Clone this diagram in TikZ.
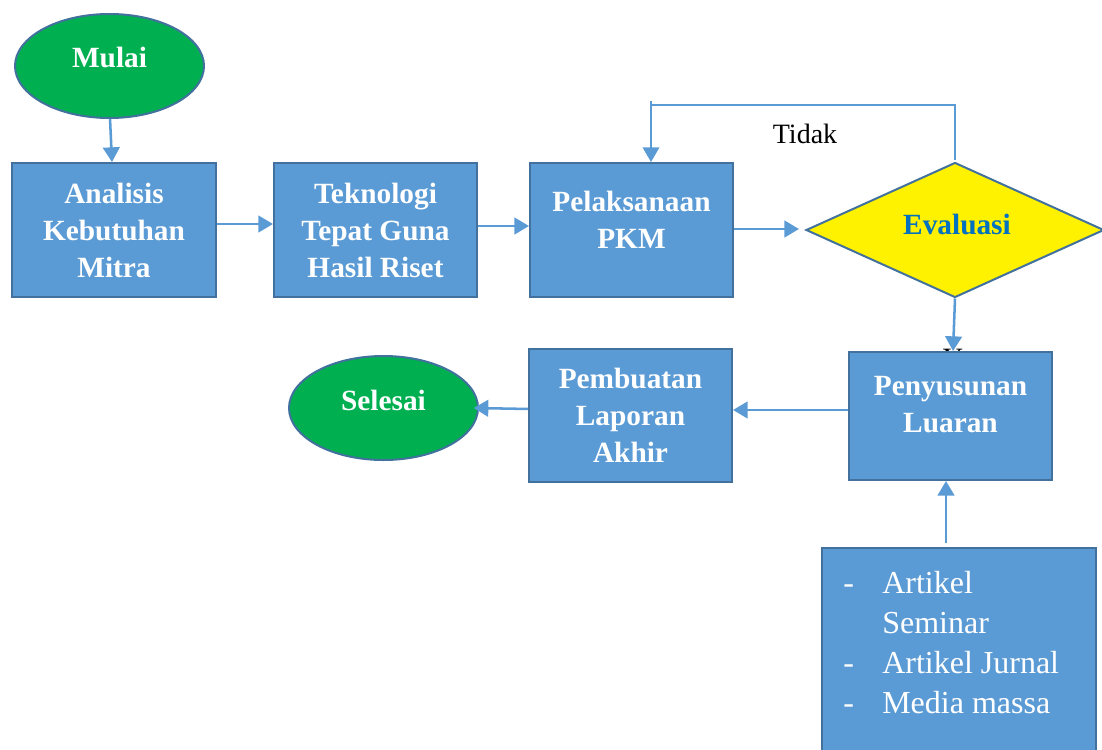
\documentclass[tikz,border=0pt]{standalone}
\usepackage{fontspec}
\setmainfont{Liberation Serif}
\usetikzlibrary{shapes.geometric,arrows.meta}
\definecolor{boxblue}{HTML}{5B9BD5}
\definecolor{edgeblue}{HTML}{41719C}
\definecolor{termgreen}{HTML}{00B050}
\definecolor{evalblue}{HTML}{0070C0}
\begin{document}
\begin{tikzpicture}[x=0.75pt,y=-0.75pt,
  procbox/.style={draw=edgeblue,line width=1.5pt,fill=boxblue,inner sep=0pt},
  termnode/.style={ellipse,draw=edgeblue,line width=1.5pt,fill=termgreen,inner sep=0pt,minimum width=141.75pt,minimum height=78pt},
  decnode/.style={diamond,draw=edgeblue,line width=1.5pt,fill=yellow,inner sep=0pt,minimum width=223.5pt,minimum height=101.25pt},
  boldtxt/.style={text=white,font=\fontsize{22}{27.75}\selectfont\bfseries,align=center,inner sep=0pt},
  plaintxt/.style={text=white,font=\fontsize{24}{30}\selectfont,inner sep=0pt,anchor=base west},
  flow/.style={draw=boxblue,line width=1.9pt,-{Triangle[length=11pt,width=12.5pt]}},
  thinflow/.style={draw=boxblue,line width=1.1pt,-{Triangle[length=11pt,width=12.5pt]}},
  thinline/.style={draw=boxblue,line width=1.1pt}]
\useasboundingbox (0,0) rectangle (1102,749);
\clip (0,0) rectangle (1102,749);

% terminals
\node[termnode] (mulai) at (109.5,66) {};
\node[boldtxt] (mulaitxt) at (109.5,58) {Mulai};
\node[termnode] (sel) at (383.5,408) {};
\node[boldtxt] (seltxt) at (383.5,400) {Selesai};

% top row boxes
\node[procbox,minimum width=153pt,minimum height=100.5pt] (ana) at (114,230) {};
\node[boldtxt] (anatxt) at (114,230) {Analisis\\Kebutuhan\\Mitra};
\node[procbox,minimum width=152.25pt,minimum height=100.5pt] (tek) at (375.5,230) {};
\node[boldtxt] (tektxt) at (375.5,230) {Teknologi\\Tepat Guna\\Hasil Riset};
\node[procbox,minimum width=152.25pt,minimum height=100.5pt] (pelak) at (631.5,230) {};
\node[boldtxt] (pelaktxt) at (631.5,220) {Pelaksanaan\\PKM};

% decision
\node[decnode] (eval) at (955,230) {};
\node[boldtxt,text=evalblue] (evaltxt) at (957,225) {Evaluasi};
\node[font=\fontsize{21}{25}\selectfont,inner sep=0pt] (tidak) at (805,134) {Tidak};

% hidden Y label (behind box)
\node[font=\fontsize{21}{25}\selectfont,inner sep=0pt,anchor=north] (ylab) at (953,349) {Y};

% bottom row
\node[procbox,minimum width=152.25pt,minimum height=96pt] (peny) at (950.5,416) {};
\node[boldtxt] (penytxt) at (950.5,405) {Penyusunan\\Luaran};
\node[procbox,minimum width=152.25pt,minimum height=99.75pt] (pemb) at (630.5,415.5) {};
\node[boldtxt] (pembtxt) at (630.5,415) {Pembuatan\\Laporan\\Akhir};

% output box
\node[procbox,minimum width=205.5pt,minimum height=160.5pt] (out) at (959,655) {};
\node[plaintxt] (d1) at (843,593) {-};
\node[plaintxt] (l1) at (882,593) {Artikel};
\node[plaintxt] (l2) at (882,633) {Seminar};
\node[plaintxt] (d3) at (843,673) {-};
\node[plaintxt] (l3) at (882,673) {Artikel Jurnal};
\node[plaintxt] (d4) at (843,713) {-};
\node[plaintxt] (l4) at (882,713) {Media massa};

% connectors
\draw[flow] ([xshift=0.4pt]mulai.south) -- ([xshift=-1.5pt]ana.north);
\draw[flow] ([yshift=4.5pt]ana.east) -- ([yshift=4.5pt]tek.west);
\draw[flow] ([yshift=3pt]tek.east) -- ([yshift=3pt]pelak.west);
\draw[flow] ([yshift=0.75pt]pelak.east) -- ([xshift=-4.5pt,yshift=0.75pt]eval.west);
\coordinate (fbr) at (955,105);
\coordinate (fbl) at (651,101);
\draw[thinline] ([yshift=1.5pt]eval.north) -- (fbr) -- (fbl |- fbr);
\draw[thinflow] (fbl) -- (fbl |- pelak.north);
\draw[flow] (eval.south) -- ([xshift=1.9pt]peny.north);
\draw[flow] ([yshift=4.5pt]peny.west) -- ([yshift=4.5pt]peny.west -| pemb.east);
\draw[flow] ([yshift=4.9pt]pemb.west) -- ([xshift=-4pt]sel.east);
\coordinate (arrx) at (946,543);
\draw[flow] (arrx) -- (arrx |- peny.south);
\end{tikzpicture}
\end{document}
